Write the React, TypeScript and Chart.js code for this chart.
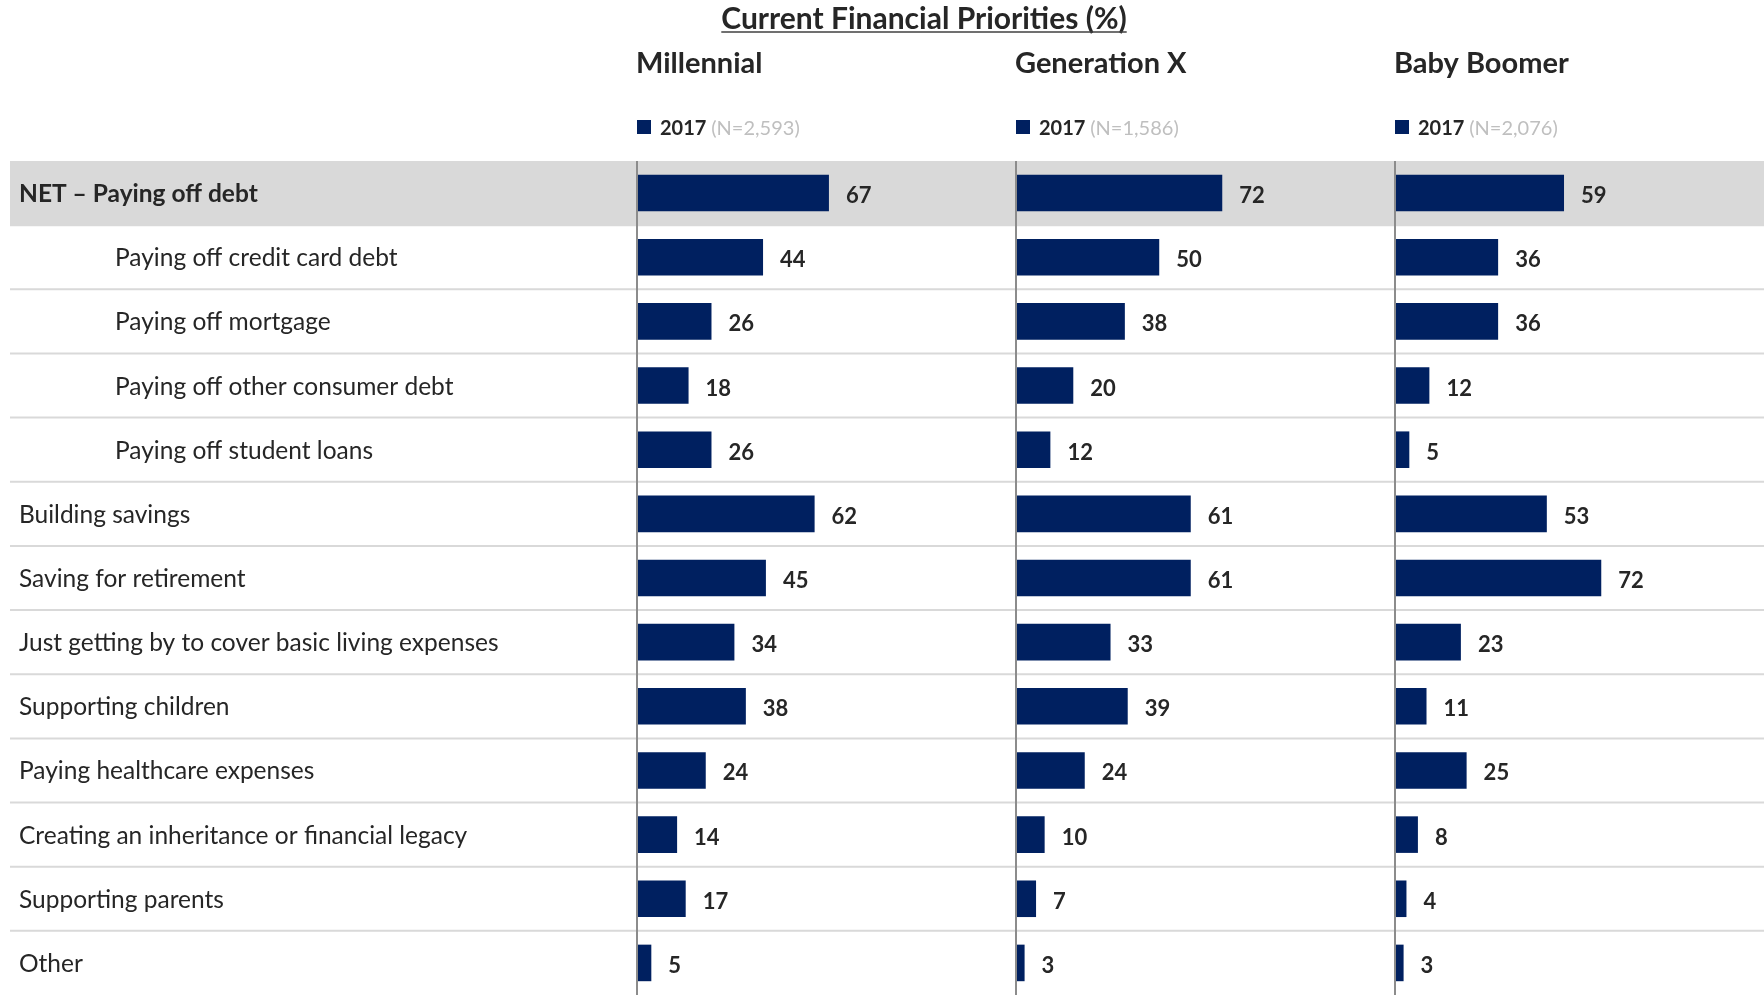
import React, { useEffect, useRef } from "react";
import { Chart, registerables } from "chart.js";

Chart.register(...registerables);

const title = "Current Financial Priorities (%)";
const categories = [
  "NET – Paying off debt",
  "Paying off credit card debt",
  "Paying off mortgage",
  "Paying off other consumer debt",
  "Paying off student loans",
  "Building savings",
  "Saving for retirement",
  "Just getting by to cover basic living expenses",
  "Supporting children",
  "Paying healthcare expenses",
  "Creating an inheritance or financial legacy",
  "Supporting parents",
  "Other",
];
const indented = [false, true, true, true, true, false, false, false, false, false, false, false, false];
const highlighted = [true, false, false, false, false, false, false, false, false, false, false, false, false];

const millennial = [67, 44, 26, 18, 26, 62, 45, 34, 38, 24, 14, 17, 5];
const generationX = [72, 50, 38, 20, 12, 61, 61, 33, 39, 24, 10, 7, 3];
const babyBoomer = [59, 36, 36, 12, 5, 53, 72, 23, 11, 25, 8, 4, 3];

const groupNames = ["Millennial", "Generation X", "Baby Boomer"];
const legendYear = "2017";
const sampleSizes = ["(N=2,593)", "(N=1,586)", "(N=2,076)"];

const AXIS_MAX = 132.3;
const FONT = 'Lato, "Open Sans", sans-serif';
const BAR = "#002060";
const TEXT = "#262626";

const decorPlugin = {
  id: "decor",
  beforeDraw(chart: any) {
    const { ctx } = chart;
    const y = chart.scales.y;
    const step = y.getPixelForValue(1) - y.getPixelForValue(0);
    ctx.save();
    categories.forEach((_, i) => {
      const c = y.getPixelForValue(i);
      if (highlighted[i]) {
        ctx.fillStyle = "#d9d9d9";
        ctx.fillRect(10, c - step / 2, chart.width - 10, step);
      }
      if (i < categories.length - 1) {
        ctx.strokeStyle = "#d9d9d9";
        ctx.lineWidth = 2;
        ctx.beginPath();
        ctx.moveTo(10, c + step / 2);
        ctx.lineTo(chart.width, c + step / 2);
        ctx.stroke();
      }
    });
    ctx.restore();
  },
  afterDraw(chart: any) {
    const { ctx } = chart;
    const y = chart.scales.y;
    ctx.save();
    ctx.textBaseline = "alphabetic";
    ctx.textAlign = "left";
    ctx.fillStyle = TEXT;
    categories.forEach((c, i) => {
      ctx.font = `${highlighted[i] ? "bold " : ""}24.5px ${FONT}`;
      ctx.fillText(c, indented[i] ? 115 : 19, y.getPixelForValue(i) + 9);
    });
    chart.data.datasets.forEach((ds: any, di: number) => {
      const meta = chart.getDatasetMeta(di);
      meta.data.forEach((el: any, i: number) => {
        ctx.font = `bold 22px ${FONT}`;
        ctx.fillStyle = TEXT;
        ctx.fillText(String(ds.data[i]), el.x + 17, el.y + 10);
      });
    });
    ["x1", "x2", "x3"].forEach((id, k) => {
      const s = chart.scales[id];
      const left = s.left;
      ctx.fillStyle = TEXT;
      ctx.font = `bold 29px ${FONT}`;
      ctx.fillText(groupNames[k], left - 1, 73);
      ctx.fillStyle = BAR;
      ctx.fillRect(left, 120, 14, 14);
      ctx.fillStyle = TEXT;
      ctx.font = `bold 20px ${FONT}`;
      ctx.fillText(legendYear, left + 23, 135);
      const w = ctx.measureText(legendYear + " ").width;
      ctx.fillStyle = "#bfbfbf";
      ctx.font = `20px ${FONT}`;
      ctx.fillText(sampleSizes[k], left + 23 + w, 135);
    });
    ctx.fillStyle = TEXT;
    ctx.font = `bold 30px ${FONT}`;
    ctx.textAlign = "center";
    const cx = 924;
    ctx.fillText(title, cx, 29);
    const tw = ctx.measureText(title).width;
    ctx.strokeStyle = "#404040";
    ctx.lineWidth = 1.5;
    ctx.beginPath();
    ctx.moveTo(cx - tw / 2, 32);
    ctx.lineTo(cx + tw / 2, 32);
    ctx.stroke();
    ctx.restore();
  },
};

function xAxis() {
  return {
    type: "linear" as const,
    position: "bottom" as const,
    stack: "columns",
    stackWeight: 1,
    min: 0,
    max: AXIS_MAX,
    afterBuildTicks: (s: any) => {
      s.ticks = [{ value: 0 }];
    },
    ticks: { display: false },
    grid: { drawTicks: false, color: "#8c8c8c", lineWidth: 2 },
    border: { display: false },
  };
}

export default function App() {
  const ref = useRef<HTMLCanvasElement | null>(null);
  useEffect(() => {
    if (!ref.current) return;
    const mk = (data: number[], axis: string) => ({
      data,
      xAxisID: axis,
      yAxisID: "y",
      backgroundColor: BAR,
      borderWidth: 0,
      grouped: false,
      barPercentage: 0.57,
      categoryPercentage: 1,
    });
    const chart = new Chart(ref.current, {
      type: "bar",
      data: {
        labels: categories,
        datasets: [mk(millennial, "x1"), mk(generationX, "x2"), mk(babyBoomer, "x3")],
      },
      plugins: [decorPlugin],
      options: {
        indexAxis: "y",
        responsive: false,
        animation: false,
        devicePixelRatio: 1,
        layout: { padding: { left: 637, top: 161, right: 0, bottom: 0 } },
        plugins: { legend: { display: false }, tooltip: { enabled: false }, title: { display: false } },
        scales: {
          y: { type: "category", display: false, offset: true },
          x1: xAxis(),
          x2: xAxis(),
          x3: xAxis(),
        },
      } as any,
    });
    return () => chart.destroy();
  }, []);
  return (
    <div style={{ position: "fixed", left: 0, top: 0, width: 1764, height: 995, overflow: "hidden", background: "#fff" }}>
      <canvas ref={ref} width={1774} height={995} style={{ width: 1774, height: 995, display: "block" }} />
    </div>
  );
}
